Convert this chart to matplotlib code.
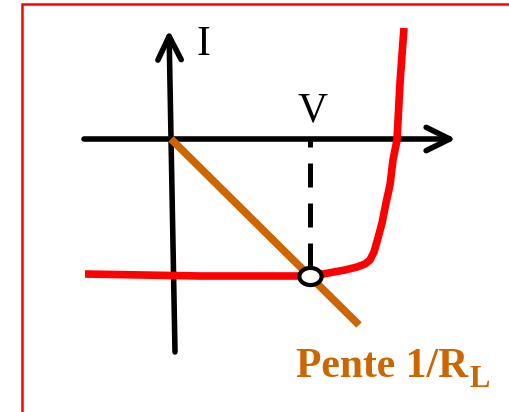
import numpy as np
import matplotlib
matplotlib.use('Agg')
import matplotlib.pyplot as plt
import matplotlib.patches as mpatches
from matplotlib.path import Path

RED = '#FF0000'
ORANGE = '#CC6600'
SERIF = 'Liberation Serif'

# I(V) characteristic of the cell (arbitrary units)
curve_v = [-0.86, 0.29, 1.29, 1.39, 1.52, 1.74, 1.86, 1.94, 1.99, 2.03, 2.07,
           2.11, 2.15, 2.19, 2.22, 2.26, 2.29, 2.31, 2.33]
curve_i = [-1.35, -1.37, -1.37, -1.36, -1.35, -1.31, -1.28, -1.25, -1.21, -1.13,
           -0.99, -0.84, -0.64, -0.46, -0.21, -0.01, 0.56, 0.84, 1.11]

# load line, slope 1/R_L
load_v = [0.0, 1.88]
load_i = [0.0, -1.86]

# operating point
op_v = 1.39
op_i = -1.37

# axes extents
v_axis = [-0.87, 2.85]
i_axis_v = [0.04, -0.02]
i_axis_i = [-2.13, 1.09]

fig = plt.figure(figsize=(5.09, 4.12), dpi=100)
ax = fig.add_axes([0, 0, 1, 1])
ax.set_xlim(-1.71, 3.38)
ax.set_ylim(-2.73, 1.39)
ax.axis('off')

# frame around the figure (right side runs off the picture)
fig.patches.append(mpatches.Rectangle((21.5 / 509, -1.0 / 412), 1.3, 409.0 / 412,
                                      transform=fig.transFigure, fill=False,
                                      ec=RED, lw=1.8, zorder=0))

arrow = dict(arrowstyle='->,head_length=0.85,head_width=0.42', lw=4, color='black',
             mutation_scale=20, shrinkA=0, shrinkB=0, capstyle='round',
             joinstyle='round')
ax.annotate('', xy=(v_axis[1], 0), xytext=(v_axis[0], 0), arrowprops=arrow)
ax.annotate('', xy=(i_axis_v[1], i_axis_i[1]), xytext=(i_axis_v[0], i_axis_i[0]),
            arrowprops=arrow)

ax.plot([op_v, op_v], [op_i, 0], color='black', lw=3.6,
        ls=(6.2, (4.8, 3.2)), dash_capstyle='butt', zorder=2)

ax.plot(load_v, load_i, color=ORANGE, lw=5.5, solid_capstyle='butt', zorder=3)
ax.plot(curve_v, curve_i, color=RED, lw=5.5, solid_capstyle='butt',
        solid_joinstyle='round', zorder=4)

t = np.linspace(0, 2 * np.pi, 60)
ellipse = Path(np.column_stack([1.3 * np.cos(t), np.sin(t)]), closed=True)
ax.plot([op_v], [op_i], marker=ellipse, ms=16, mfc='white', mec='black',
        mew=3, zorder=5)

ax.text(0.32, 0.84, 'I', fontsize=30, family=SERIF, ha='center', va='baseline')
ax.text(1.42, 0.17, 'V', fontsize=30, family=SERIF, ha='center', va='baseline')
ax.text(1.25, -2.38, 'Pente 1/R', fontsize=30, family=SERIF, weight='bold',
        color=ORANGE, ha='left', va='baseline')
ax.text(2.98, -2.48, 'L', fontsize=22, family=SERIF, weight='bold',
        color=ORANGE, ha='left', va='baseline')

fig.savefig('out.png', dpi=100)
